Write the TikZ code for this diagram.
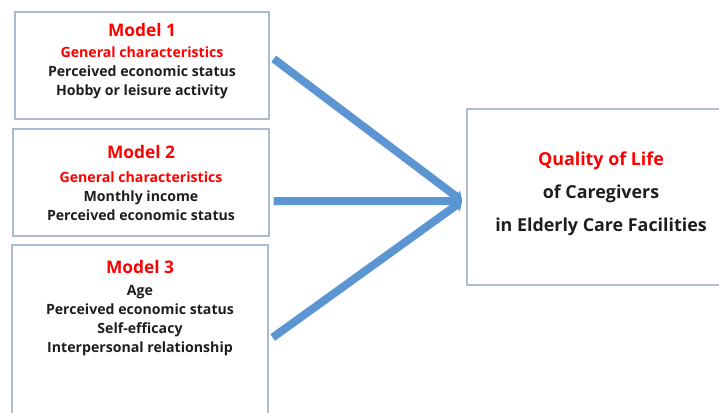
\documentclass[tikz,border=0pt]{standalone}
\usepackage{fontspec}
\setmainfont{Open Sans}
\usepackage{xcolor}
\usepackage{tikz}
\usetikzlibrary{arrows.meta, positioning, fit}
\definecolor{modelred}{HTML}{FF0000}
\definecolor{modelink}{HTML}{1E1E1E}
\definecolor{modelframe}{HTML}{A9BCD2}
\definecolor{modelblue}{HTML}{5B96D2}

\begin{document}
\begin{tikzpicture}[
        x=0.75pt, y=-0.75pt,
        box/.style={draw=modelframe, line width=1.1pt, inner sep=0pt},
        title/.style={text=modelred, font=\bfseries\fontsize{13}{15}\selectfont},
        body/.style={text=modelink, align=center, font=\bfseries\fontsize{10.6}{14.25}\selectfont},
        arrow/.style={-{Triangle[width=10pt, length=6pt]}, line width=6pt, modelblue}
    ]
        \clip (0,0) rectangle (719,412);
        \useasboundingbox (0,0) rectangle (719,412);

        % three model boxes on the left, the outcome box on the right
        \node (m1) [box, fit={(15,12) (269,119)}] {};
        \node (m2) [box, fit={(13,129) (269,236)}] {};
        \node (m3) [box, fit={(12,245) (268,430)}] {};
        \node (qol) [box, fit={(467,109) (730,285)}] {};

        \node (m1title) [title] at (142,30) {Model 1};
        \node (m1body) [body] at (142,73) {\textcolor{modelred}{General characteristics}\\Perceived economic status\\Hobby or leisure activity};
        \node (m2title) [title] at (141,152) {Model 2};
        \node (m2body) [body] at (141,196.5) {\textcolor{modelred}{General characteristics}\\Monthly income\\Perceived economic status};
        \node (m3title) [title] at (140,267) {Model 3};
        \node (m3body) [body] at (140,321) {Age\\Perceived economic status\\Self-efficacy\\Interpersonal relationship};
        \node (qoltext) [body, font=\bfseries\fontsize{13.4}{24.75}\selectfont] at (601,193.5) {\textcolor{modelred}{Quality of Life}\\of Caregivers\\in Elderly Care Facilities};

        \draw [arrow] ([xshift=3pt, yshift=5pt]m1.east) -- ([xshift=-3pt, yshift=-3pt]qol.west);
        \draw [arrow] ([xshift=3pt, yshift=-14pt]m2.east) -- ([xshift=-3pt, yshift=-3pt]qol.west);
        \draw [arrow] ([xshift=3pt]m3.east) -- ([xshift=-3pt, yshift=-3pt]qol.west);
    \end{tikzpicture}
\end{document}
